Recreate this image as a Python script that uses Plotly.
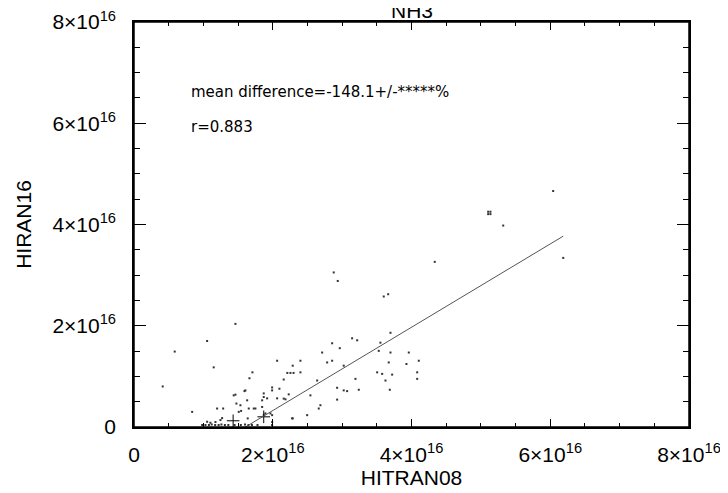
import plotly.graph_objects as go

# ---- data (units of 1e16 molecules) ----
hitran08 = [
    1.462, 1.054, 0.587, 1.149, 0.414, 0.838, 1.707, 1.664, 2.063, 2.288,
    2.399, 2.210, 2.255, 2.300, 2.399, 2.158, 1.991, 1.991, 2.096, 1.870,
    1.870, 1.919, 2.063, 2.230, 2.158, 1.462, 1.606, 1.631, 1.476, 1.198,
    1.285, 1.510, 1.726, 1.847, 1.894, 1.967, 1.639, 1.246, 1.101, 1.054,
    2.543, 2.496, 2.687, 2.640, 2.712, 2.856, 2.966, 2.784, 2.856, 2.928,
    3.023, 3.072, 3.240, 2.928, 3.144, 3.217, 3.023, 3.192, 3.697, 3.552,
    3.528, 3.697, 3.961, 3.672, 3.927, 4.105, 3.505, 3.577, 3.721, 3.625,
    4.082, 4.082, 3.687, 2.288, 6.042, 5.105, 5.138, 5.105, 5.138, 5.322,
    4.335, 6.187, 3.600, 3.664, 2.879, 2.937, 1.592, 1.437, 1.847, 2.183,
    1.544, 1.654, 1.750, 1.870, 1.991, 1.991, 2.663, 2.279, 1.534, 1.270,
    1.174, 0.982, 1.030, 1.080, 1.120, 1.170, 1.220, 1.260, 1.310, 1.360,
    1.450, 1.540, 1.600, 1.650, 1.700, 1.780, 1.990,
]
hiran16 = [
    2.037, 1.699, 1.490, 1.178, 0.801, 0.299, 1.080, 0.963, 1.309, 1.211,
    1.309, 1.068, 1.068, 1.068, 1.080, 0.938, 0.781, 0.723, 0.756, 0.592,
    0.664, 0.566, 0.566, 0.645, 0.561, 0.639, 0.723, 0.527, 0.463, 0.365,
    0.365, 0.299, 0.365, 0.396, 0.268, 0.268, 0.170, 0.137, 0.084, 0.104,
    0.625, 0.234, 0.430, 0.918, 1.471, 1.654, 1.557, 1.275, 1.309, 0.775,
    0.723, 0.709, 0.736, 0.541, 1.752, 1.713, 1.211, 0.951, 1.861, 1.666,
    1.504, 1.471, 1.471, 1.275, 1.244, 1.309, 1.080, 1.049, 1.035, 0.918,
    1.080, 0.951, 0.736, 0.170, 4.662, 4.252, 4.252, 4.205, 4.205, 3.979,
    3.262, 3.340, 2.578, 2.623, 3.053, 2.885, 0.709, 0.625, 0.527, 0.547,
    0.318, 0.365, 0.365, 0.234, 0.234, 0.098, 0.365, 0.170, 0.430, 0.176,
    0.098, 0.040, 0.040, 0.040, 0.050, 0.040, 0.040, 0.050, 0.040, 0.040,
    0.040, 0.040, 0.050, 0.040, 0.040, 0.040, 0.040,
]
plus_x = [1.429, 1.870]
plus_y = [0.123, 0.201]

fit_slope = 0.823
fit_intercept = -1.322  # 1e16

tick_vals = [0, 2, 4, 6, 8]
tick_text = ["0", "2×10<sup>16</sup>", "4×10<sup>16</sup>", "6×10<sup>16</sup>", "8×10<sup>16</sup>"]

title_text = "NH3"
x_title = "HITRAN08"
y_title = "HIRAN16"
note1 = "mean difference=-148.1+/-*****%"
note2 = "r=0.883"

E = 1e16
xs = [v * E for v in hitran08]
ys = [v * E for v in hiran16]

fx = [min(hitran08) * E, max(hitran08) * E]
fy = [(fit_slope * (v / E) + fit_intercept) * E for v in fx]

fig = go.Figure()
fig.add_trace(go.Scatter(x=xs, y=ys, mode="markers",
                         marker=dict(symbol="square", size=2, color="#333333", line=dict(width=0)),
                         showlegend=False, hoverinfo="skip"))
fig.add_trace(go.Scatter(x=[v * E for v in plus_x], y=[v * E for v in plus_y], mode="markers",
                         marker=dict(symbol="cross-thin-open", size=9, color="black",
                                     line=dict(width=1, color="black")),
                         showlegend=False, hoverinfo="skip"))
fig.add_trace(go.Scatter(x=fx, y=fy, mode="lines",
                         line=dict(color="#555555", width=1),
                         showlegend=False, hoverinfo="skip"))

font = dict(family="Liberation Sans, Arial, sans-serif", size=21, color="black")

axis_common = dict(
    range=[0, 8 * E], showgrid=False, zeroline=False, automargin=False,
    showline=True, linecolor="black", linewidth=1.5, mirror="ticks",
    ticks="inside", tickcolor="black", tickwidth=1.2,
    tickmode="array", tickvals=[v * E for v in tick_vals], ticktext=tick_text,
    tickfont=font, ticklabeloverflow="allow",
)

fig.update_xaxes(**axis_common, ticklen=8,
                 minor=dict(ticks="inside", ticklen=4, tickcolor="black", tickwidth=1.2,
                            tickmode="linear", tick0=0, dtick=0.5 * E, showgrid=False),
                 ticklabelstandoff=8,
                 title=dict(text=x_title, font=font, standoff=4))
fig.update_yaxes(**axis_common, ticklen=12,
                 minor=dict(ticks="inside", ticklen=6, tickcolor="black", tickwidth=1.2,
                            tickmode="linear", tick0=0, dtick=0.5 * E, showgrid=False),
                 ticklabelstandoff=12,
                 title=dict(text=y_title, font=font, standoff=15))

# page has an 8px body margin; margins below place the plot box at
# roughly x 134..689, y 22..427 in the screenshot
fig.update_layout(
    width=728, height=493,
    margin=dict(l=126, r=47, t=14, b=74, autoexpand=False),
    paper_bgcolor="white", plot_bgcolor="white",
    font=font,
    shapes=[dict(type="rect", xref="paper", yref="paper", x0=0, x1=1, y0=0, y1=1,
                 line=dict(color="black", width=1.5), layer="above")],
    annotations=[
        dict(text=title_text, x=0.5, y=1, xref="paper", yref="paper",
             xanchor="center", yanchor="bottom", yshift=-2, showarrow=False, font=font),
        dict(text=note1, x=189, y=92, xref="paper", yref="paper", showarrow=False,
             xanchor="left", yanchor="middle",
             font=dict(family="DejaVu Sans, sans-serif", size=15, color="black")),
        dict(text=note2, x=189, y=127, xref="paper", yref="paper", showarrow=False,
             xanchor="left", yanchor="middle",
             font=dict(family="DejaVu Sans, sans-serif", size=15, color="black")),
    ],
)

# convert screenshot pixel positions of notes to paper coords
pl, pr, pt, pb = 134, 689, 22, 427
for a in fig.layout.annotations[1:]:
    a.x = (a.x - pl) / (pr - pl)
    a.y = (pb - a.y) / (pb - pt)

fig.write_html("out.html")
